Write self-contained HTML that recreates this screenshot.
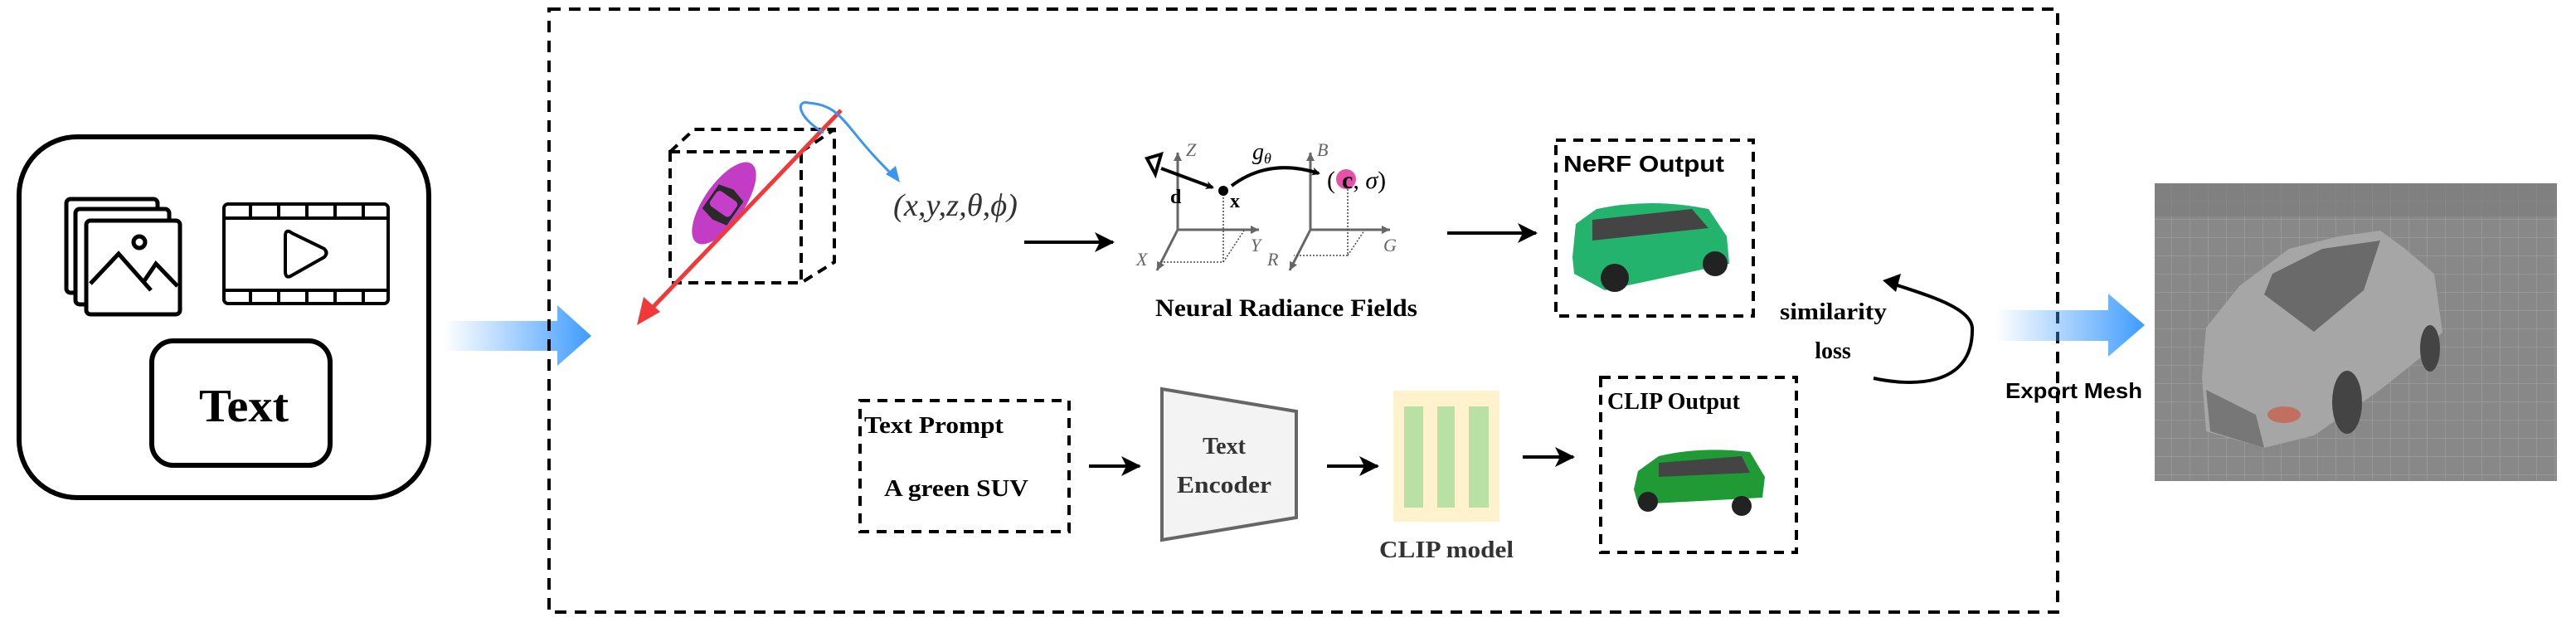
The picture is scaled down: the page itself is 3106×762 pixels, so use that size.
<!DOCTYPE html>
<html><head><meta charset="utf-8"><style>
html,body{margin:0;padding:0;background:#fff;width:3106px;height:762px;overflow:hidden}
svg{display:block}
.serif{font-family:"Liberation Serif",serif;font-weight:bold}
.sans{font-family:"Liberation Sans",sans-serif;font-weight:bold}
</style></head><body>
<svg width="3106" height="762" viewBox="0 0 3106 762" xmlns="http://www.w3.org/2000/svg">
<defs>
<linearGradient id="bg" x1="0" x2="1" y1="0" y2="0"><stop offset="0" stop-color="#4da3ff" stop-opacity="0"/><stop offset="1" stop-color="#3d9bff"/></linearGradient>
<marker id="ah" markerWidth="10" markerHeight="10" refX="8" refY="5" orient="auto" markerUnits="userSpaceOnUse"><path d="M0,0 L10,5 L0,10 L3,5z" fill="#000"/></marker>
<marker id="ahb" markerWidth="30" markerHeight="30" refX="22" refY="12" orient="auto" markerUnits="userSpaceOnUse"><path d="M0,0 L24,12 L0,24 L6,12z" fill="#000"/></marker>
<marker id="ahg" markerWidth="14" markerHeight="14" refX="10" refY="5" orient="auto" markerUnits="userSpaceOnUse"><path d="M0,0 L10,5 L0,10z" fill="#666"/></marker>
<pattern id="grid" width="22" height="22" patternUnits="userSpaceOnUse"><path d="M0,0H22M0,0V22" stroke="#a9a9a9" stroke-width="1.5"/></pattern>
</defs>

<!-- left input box -->
<rect x="23" y="165" width="494" height="435" rx="70" fill="none" stroke="#000" stroke-width="6"/>
<rect x="80" y="240" width="110" height="113" rx="5" fill="#fff" stroke="#000" stroke-width="5"/>
<rect x="91" y="252" width="113" height="115" rx="5" fill="#fff" stroke="#000" stroke-width="5"/>
<rect x="104" y="266" width="113" height="113" rx="5" fill="#fff" stroke="#000" stroke-width="5"/>
<circle cx="168" cy="292" r="7" fill="none" stroke="#000" stroke-width="5"/>
<path d="M109,342 L143,306 L182,350 M173,340 L188,318 L214,345" fill="none" stroke="#000" stroke-width="5"/>
<rect x="270" y="246" width="198" height="120" rx="5" fill="none" stroke="#000" stroke-width="4"/>
<path d="M270,263H468M270,350H468M302,246V263M336,246V263M370,246V263M404,246V263M438,246V263M302,350V366M336,350V366M370,350V366M404,350V366M438,350V366" stroke="#000" stroke-width="4"/>
<path d="M344,285 Q344,275 352,281 L391,300 Q396,305 391,310 L352,332 Q344,337 344,327Z" fill="none" stroke="#000" stroke-width="4"/>
<rect x="183" y="411" width="215" height="150" rx="26" fill="none" stroke="#000" stroke-width="6"/>
<text x="240" y="508" class="serif" font-size="56" textLength="108" lengthAdjust="spacingAndGlyphs">Text</text>

<path d="M535,387 H672 V368 L713,405 L672,441 V423 H535Z" fill="url(#bg)"/>

<rect x="662" y="11" width="1819" height="727" fill="none" stroke="#000" stroke-width="4" stroke-dasharray="14,10"/>

<g fill="none" stroke="#000" stroke-width="4" stroke-dasharray="12,8">
<rect x="808" y="183" width="158" height="158"/>
<path d="M808,183 L837,156 H1006 V316 L966,341 M966,183 L1006,156"/>
</g>
<g transform="translate(873,245) rotate(-55)">
<ellipse cx="0" cy="0" rx="58" ry="24" fill="#c33cc6"/>
<path d="M-20,-18 L15,-18 L20,0 L15,18 L-20,18 L-24,0Z" fill="#2a2a2a"/>
<rect x="-12" y="-15" width="22" height="30" rx="5" fill="#c63fc8"/>
</g>
<line x1="1014" y1="133" x2="780" y2="378" stroke="#f03a3a" stroke-width="5"/>
<path d="M768,392 L776,358 L796,376Z" fill="#f03a3a"/>
<path d="M993,160 C960,140 960,120 975,124 C1000,126 1010,135 1030,160 C1050,185 1065,200 1080,215" fill="none" stroke="#3a96f0" stroke-width="3"/>
<path d="M1085,220 L1068,210 L1080,200Z" fill="#3a96f0"/>

<text x="1077" y="260" font-family="Liberation Serif,serif" font-style="italic" font-size="38" fill="#333" textLength="150" lengthAdjust="spacingAndGlyphs">(x,y,z,θ,ϕ)</text>
<line x1="1235" y1="292" x2="1342" y2="292" stroke="#000" stroke-width="4" marker-end="url(#ahb)"/>

<g stroke="#666" stroke-width="3" fill="none">
<line x1="1420" y1="277" x2="1420" y2="184" marker-end="url(#ahg)"/>
<line x1="1420" y1="277" x2="1518" y2="277" marker-end="url(#ahg)"/>
<line x1="1420" y1="277" x2="1395" y2="326" marker-end="url(#ahg)"/>
<line x1="1580" y1="277" x2="1580" y2="184" marker-end="url(#ahg)"/>
<line x1="1580" y1="277" x2="1676" y2="277" marker-end="url(#ahg)"/>
<line x1="1580" y1="277" x2="1555" y2="326" marker-end="url(#ahg)"/>
</g>
<g stroke="#444" stroke-width="1.5" stroke-dasharray="2,2" fill="none">
<path d="M1475,230 V316 H1400 M1475,316 L1500,278"/>
<path d="M1625,216 V308 H1560 M1625,308 L1645,278"/>
</g>
<g font-family="Liberation Serif,serif" font-style="italic" fill="#666" font-size="22">
<text x="1430" y="188">Z</text><text x="1508" y="303">Y</text><text x="1370" y="320">X</text>
<text x="1588" y="188">B</text><text x="1668" y="303">G</text><text x="1528" y="320">R</text>
</g>
<path d="M1383,191 L1400,186 L1393,210Z" fill="none" stroke="#000" stroke-width="4"/>
<line x1="1400" y1="203" x2="1462" y2="226" stroke="#000" stroke-width="4" marker-end="url(#ah)"/>
<circle cx="1475" cy="230" r="6" fill="#000"/>
<text x="1411" y="245" font-family="Liberation Serif,serif" font-weight="bold" font-size="24">d</text>
<text x="1483" y="250" font-family="Liberation Serif,serif" font-weight="bold" font-size="24">x</text>
<path d="M1485,224 Q1530,190 1590,209" fill="none" stroke="#000" stroke-width="4" marker-end="url(#ah)"/>
<text x="1510" y="192" font-family="Liberation Serif,serif" font-style="italic" font-size="28">g<tspan font-size="18" dy="5">θ</tspan></text>
<circle cx="1623" cy="216" r="12" fill="#e552a8"/>
<text x="1600" y="227" font-family="Liberation Serif,serif" font-size="30">(<tspan font-weight="bold" dx="8">c</tspan>, <tspan font-style="italic">σ</tspan>)</text>
<text x="1393" y="381" class="serif" font-size="30" textLength="316" lengthAdjust="spacingAndGlyphs">Neural Radiance Fields</text>
<line x1="1745" y1="281" x2="1852" y2="281" stroke="#000" stroke-width="4" marker-end="url(#ahb)"/>

<rect x="1876" y="169" width="238" height="212" fill="none" stroke="#000" stroke-width="4" stroke-dasharray="12,9"/>
<text x="1885" y="207" class="sans" font-size="28" textLength="194" lengthAdjust="spacingAndGlyphs">NeRF Output</text>
<g>
<path d="M1896,310 L1900,270 L1925,252 Q1990,238 2060,252 L2082,285 L2085,318 L1935,350 L1898,330Z" fill="#23b36d"/>
<path d="M1920,265 L2040,252 L2060,275 L1920,290Z" fill="#444"/>
<circle cx="1947" cy="335" r="17" fill="#222"/><circle cx="2068" cy="318" r="15" fill="#222"/>
</g>

<rect x="1037" y="483" width="252" height="158" fill="none" stroke="#000" stroke-width="4" stroke-dasharray="12,9"/>
<text x="1042" y="522" class="serif" font-size="28" textLength="168" lengthAdjust="spacingAndGlyphs">Text Prompt</text>
<text x="1066" y="598" class="serif" font-size="28" textLength="174" lengthAdjust="spacingAndGlyphs">A green SUV</text>
<line x1="1313" y1="562" x2="1374" y2="562" stroke="#000" stroke-width="4" marker-end="url(#ahb)"/>
<path d="M1401,469 L1563,496 L1563,624 L1401,651Z" fill="#f3f3f3" stroke="#666" stroke-width="4"/>
<text x="1476" y="547" text-anchor="middle" class="serif" font-size="28" fill="#333">Text</text>
<text x="1476" y="594" text-anchor="middle" class="serif" font-size="28" fill="#333" textLength="114" lengthAdjust="spacingAndGlyphs">Encoder</text>
<line x1="1600" y1="562" x2="1661" y2="562" stroke="#000" stroke-width="4" marker-end="url(#ahb)"/>
<rect x="1680" y="471" width="128" height="158" fill="#fff2cc"/>
<rect x="1693" y="490" width="23" height="122" fill="#b9e0a5"/>
<rect x="1733" y="490" width="21" height="122" fill="#b9e0a5"/>
<rect x="1771" y="490" width="24" height="122" fill="#b9e0a5"/>
<text x="1663" y="672" class="serif" font-size="29" fill="#333" textLength="162" lengthAdjust="spacingAndGlyphs">CLIP model</text>
<line x1="1836" y1="551" x2="1897" y2="551" stroke="#000" stroke-width="4" marker-end="url(#ahb)"/>
<rect x="1930" y="455" width="236" height="211" fill="none" stroke="#000" stroke-width="4" stroke-dasharray="12,9"/>
<text x="1938" y="493" class="serif" font-size="28" textLength="160" lengthAdjust="spacingAndGlyphs">CLIP Output</text>
<g>
<path d="M1970,590 L1975,568 L2000,550 Q2050,538 2110,545 L2128,575 L2125,600 L1975,608Z" fill="#1f9a34"/>
<path d="M2000,558 L2100,550 L2110,570 L2000,575Z" fill="#444"/>
<circle cx="1987" cy="605" r="12" fill="#222"/><circle cx="2100" cy="610" r="12" fill="#222"/>
</g>

<text x="2146" y="385" class="serif" font-size="28" textLength="129" lengthAdjust="spacingAndGlyphs">similarity</text>
<text x="2210" y="432" text-anchor="middle" class="serif" font-size="28">loss</text>
<path d="M2259,456 C2300,465 2380,470 2378,395 C2376,370 2320,355 2282,342" fill="none" stroke="#000" stroke-width="4"/>
<path d="M2270,338 L2292,330 L2286,352Z" fill="#000"/>

<path d="M2405,374 H2542 V354 L2586,392 L2542,430 V411 H2405Z" fill="url(#bg)"/>
<text x="2418" y="480" class="sans" font-size="26" textLength="165" lengthAdjust="spacingAndGlyphs">Export Mesh</text>

<rect x="2598" y="221" width="485" height="359" fill="#888"/>
<rect x="2598" y="221" width="485" height="359" fill="url(#grid)" opacity="0.6"/>
<rect x="2598" y="221" width="485" height="40" fill="#7b7b7b" opacity="0.6"/>
<path d="M2655,455 L2660,395 L2700,345 L2760,300 L2820,285 L2870,278 L2900,300 L2935,330 L2945,400 L2920,430 L2870,470 L2790,525 L2730,540 L2660,520Z" fill="#a6a6a6"/>
<path d="M2740,330 L2800,300 L2870,290 L2850,350 L2790,400 L2730,355Z" fill="#6a6a6a"/>
<path d="M2660,470 L2720,500 L2730,540 L2665,520Z" fill="#777"/>
<ellipse cx="2754" cy="500" rx="20" ry="10" fill="#c07060"/>
<ellipse cx="2830" cy="485" rx="18" ry="38" fill="#444"/>
<ellipse cx="2930" cy="420" rx="12" ry="28" fill="#444"/>
</svg>
</body></html>
